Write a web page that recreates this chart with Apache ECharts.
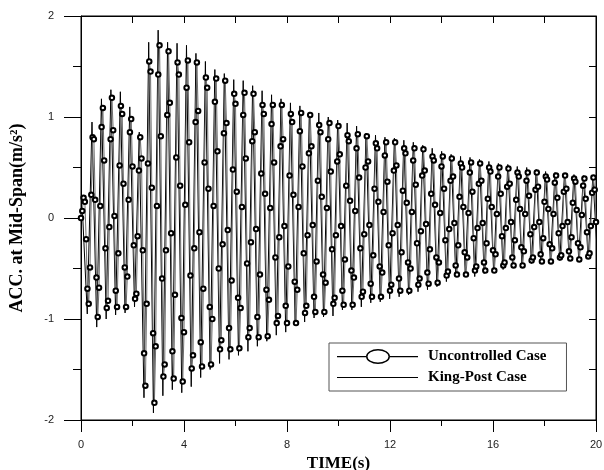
<!DOCTYPE html>
<html>
<head>
<meta charset="utf-8">
<script src="https://cdn.jsdelivr.net/npm/echarts@6/dist/echarts.min.js"></script>
<style>
  html, body { margin: 0; padding: 0; background: #fff; }
  #chart { width: 604px; height: 470px; }
</style>
</head>
<body>
<div id="chart"></div>
<script>
// Mid-span acceleration history (m/s^2) of the bridge deck.

// Uncontrolled case: samples every 0.05 s from t = 0 to 20 s
const UC_DT = 0.05;
const ucAcc = [
  0, 0.07, 0.2, 0.16, -0.21, -0.70, -0.85, -0.49, 0.23, 0.80, 0.78, 0.18, -0.59, -0.98, -0.69, 0.12, 0.90, 1.09, 0.57, -0.30, -0.89, -0.82,
  -0.09, 0.78, 1.19, 0.87, 0.02, -0.72, -0.88, -0.35, 0.52, 1.11, 1.03, 0.34, -0.49, -0.88, -0.58, 0.18, 0.85, 0.98, 0.51, -0.27, -0.80, -0.75,
  -0.18, 0.47, 0.80, 0.59, -0.32, -1.34, -1.66, -0.85, 0.54, 1.55, 1.45, 0.30, -1.14, -1.83, -1.27, 0.12, 1.42, 1.71, 0.81, -0.60, -1.57, -1.45,
  -0.32, 1.02, 1.65, 1.14, -0.15, -1.32, -1.59, -0.76, 0.60, 1.54, 1.42, 0.32, -0.99, -1.62, -1.13, 0.13, 1.29, 1.56, 0.75, -0.57, -1.49, -1.36,
  -0.30, 0.95, 1.54, 1.06, -0.14, -1.23, -1.47, -0.70, 0.55, 1.39, 1.29, 0.29, -0.88, -1.45, -1.00, 0.12, 1.15, 1.38, 0.66, -0.50, -1.30, -1.21,
  -0.26, 0.84, 1.36, 0.94, -0.12, -1.09, -1.30, -0.62, 0.48, 1.23, 1.13, 0.26, -0.79, -1.29, -0.89, 0.11, 1.02, 1.24, 0.59, -0.45, -1.18, -1.09,
  -0.24, 0.76, 1.23, 0.85, -0.11, -0.98, -1.18, -0.56, 0.44, 1.12, 1.03, 0.24, -0.71, -1.17, -0.81, 0.10, 0.93, 1.12, 0.55, -0.39, -1.04, -0.97,
  -0.19, 0.71, 1.12, 0.78, -0.08, -0.87, -1.04, -0.48, 0.42, 1.03, 0.95, 0.23, -0.63, -1.04, -0.71, 0.11, 0.86, 1.04, 0.51, -0.35, -0.94, -0.87,
  -0.17, 0.64, 1.02, 0.71, -0.07, -0.78, -0.93, -0.43, 0.37, 0.92, 0.85, 0.21, -0.56, -0.93, -0.64, 0.10, 0.78, 0.94, 0.46, -0.31, -0.85, -0.79,
  -0.17, 0.56, 0.91, 0.63, -0.08, -0.72, -0.86, -0.41, 0.32, 0.82, 0.76, 0.17, -0.52, -0.86, -0.59, 0.07, 0.69, 0.83, 0.40, -0.30, -0.78, -0.73,
  -0.16, 0.50, 0.81, 0.56, -0.07, -0.65, -0.78, -0.37, 0.29, 0.74, 0.69, 0.16, -0.48, -0.78, -0.54, 0.06, 0.62, 0.75, 0.36, -0.27, -0.72, -0.66,
  -0.15, 0.47, 0.75, 0.52, -0.07, -0.60, -0.72, -0.34, 0.27, 0.69, 0.64, 0.15, -0.44, -0.72, -0.50, 0.06, 0.57, 0.69, 0.33, -0.25, -0.66, -0.60,
  -0.13, 0.42, 0.68, 0.47, -0.06, -0.54, -0.65, -0.31, 0.24, 0.61, 0.57, 0.13, -0.39, -0.64, -0.44, 0.05, 0.51, 0.61, 0.29, -0.22, -0.57, -0.53,
  -0.11, 0.37, 0.59, 0.41, -0.05, -0.47, -0.56, -0.27, 0.21, 0.54, 0.50, 0.11, -0.34, -0.56, -0.39, 0.05, 0.45, 0.55, 0.26, -0.20, -0.52, -0.48,
  -0.10, 0.34, 0.54, 0.37, -0.05, -0.44, -0.52, -0.25, 0.19, 0.50, 0.46, 0.11, -0.32, -0.52, -0.36, 0.04, 0.41, 0.50, 0.24, -0.18, -0.47, -0.44,
  -0.10, 0.31, 0.49, 0.34, -0.04, -0.39, -0.47, -0.22, 0.18, 0.45, 0.41, 0.09, -0.29, -0.47, -0.33, 0.04, 0.37, 0.45, 0.22, -0.16, -0.42, -0.39,
  -0.09, 0.28, 0.45, 0.31, -0.04, -0.36, -0.43, -0.20, 0.16, 0.41, 0.38, 0.09, -0.26, -0.43, -0.30, 0.04, 0.35, 0.42, 0.20, -0.15, -0.39, -0.37,
  -0.08, 0.26, 0.42, 0.29, -0.04, -0.33, -0.40, -0.19, 0.15, 0.39, 0.36, 0.08, -0.25, -0.41, -0.29, 0.03, 0.32, 0.39, 0.19, -0.14, -0.38, -0.35,
  -0.08, 0.25, 0.40, 0.28, -0.04
];

// King-post case: successive response peaks and troughs, one every half cycle
const KP_T0 = 0.06;
const KP_HALF = 0.1835;
const kpPeaks = [
  0.05, 0.95, 1.18, 1.27, 1.25, 1.10, 0.85, 1.74, 1.86, 1.74, 1.73, 1.71, 1.63, 1.55, 1.47,
  1.43, 1.37, 1.36, 1.31, 1.26, 1.22, 1.18, 1.14, 1.11, 1.05, 1.04, 1.00, 0.97, 0.94, 0.91,
  0.84, 0.82, 0.80, 0.79, 0.77, 0.75, 0.72, 0.69, 0.66, 0.63, 0.61, 0.60, 0.58, 0.56, 0.54,
  0.53, 0.51, 0.50, 0.48, 0.46, 0.45, 0.44, 0.43, 0.42, 0.41
];
const kpTroughs = [
  -0.95, -1.08, -1.00, -0.96, -0.94, -0.88, -1.78, -1.93, -1.76, -1.70, -1.73, -1.67, -1.58, -1.50, -1.44,
  -1.40, -1.36, -1.32, -1.27, -1.22, -1.16, -1.13, -1.06, -1.03, -0.99, -0.98, -0.97, -0.91, -0.91, -0.88,
  -0.84, -0.83, -0.80, -0.78, -0.76, -0.73, -0.71, -0.68, -0.63, -0.58, -0.56, -0.58, -0.55, -0.53, -0.51,
  -0.47, -0.48, -0.45, -0.43, -0.43, -0.42, -0.41, -0.40, -0.40, -0.40
];

const xTicks = [0, 4, 8, 12, 16, 20];
const yTicks = [-2, -1, 0, 1, 2];
const seriesNames = ['Uncontrolled Case', 'King-Post Case'];

const ucData = ucAcc.map((v, i) => [+(i * UC_DT).toFixed(3), v]);
const kpData = [];
kpPeaks.forEach((p, k) => {
  kpData.push([KP_T0 + (2 * k) * KP_HALF, p]);
  kpData.push([KP_T0 + (2 * k + 1) * KP_HALF, kpTroughs[k]]);
});

const tickFont = { fontFamily: 'Liberation Sans', fontSize: 11, color: '#222' };
const nameFont = { fontFamily: 'Liberation Serif', fontWeight: 'bold', color: '#000' };
const black = { color: '#000', width: 1 };

// legend glyphs: plain line, and line broken by an open ellipse
const ICON_RING = 'path://M0,7 L29,7 L29,8.2 L0,8.2 Z M53,7 L81,7 L81,8.2 L53,8.2 Z ' +
  'M29,7.5 A12,7.5 0 1 1 53,7.5 A12,7.5 0 1 1 29,7.5 Z ' +
  'M30.5,7.5 A10.5,6.1 0 1 0 51.5,7.5 A10.5,6.1 0 1 0 30.5,7.5 Z';
const ICON_LINE = 'path://M0,7 L81,7 L81,8.2 L0,8.2 Z';

const chart = echarts.init(document.getElementById('chart'), null, { renderer: 'canvas' });
chart.setOption({
  animation: false,
  backgroundColor: '#fff',
  grid: {
    left: 81, right: 8, top: 16, bottom: 50, containLabel: false, outerBoundsMode: 'none',
    show: true, borderColor: '#000', borderWidth: 1, backgroundColor: 'transparent'
  },
  legend: {
    orient: 'vertical',
    left: 329,
    top: 343,
    padding: [6, 20, 6, 8],
    itemGap: 6,
    itemWidth: 81,
    itemHeight: 15,
    symbolKeepAspect: true,
    selectedMode: false,
    backgroundColor: '#fff',
    borderColor: '#555',
    borderWidth: 1,
    borderRadius: 0,
    itemStyle: { color: '#000', borderWidth: 0 },
    textStyle: { fontFamily: 'Liberation Serif', fontWeight: 'bold', fontSize: 15, color: '#000', lineHeight: 15, padding: [0, 0, 0, 5] },
    data: [
      { name: seriesNames[0], icon: ICON_RING },
      { name: seriesNames[1], icon: ICON_LINE }
    ],
    z: 10
  },
  xAxis: [
    {
      type: 'value', position: 'bottom', min: xTicks[0], max: xTicks[xTicks.length - 1],
      interval: xTicks[1] - xTicks[0],
      name: 'TIME(s)', nameLocation: 'middle', nameGap: 31,
      nameTextStyle: Object.assign({ fontSize: 17 }, nameFont),
      axisLine: { show: true, onZero: false, lineStyle: black },
      axisTick: { show: true, inside: false, length: 12, lineStyle: black },
      minorTick: { show: true, splitNumber: 2, length: 6, lineStyle: black },
      axisLabel: Object.assign({ margin: 19 }, tickFont),
      splitLine: { show: false }
    },
    {
      type: 'value', position: 'top', min: 0, max: 20, interval: 2, show: true,
      axisLine: { show: true, onZero: false, lineStyle: black },
      axisTick: { show: true, inside: true, length: 7, lineStyle: black },
      axisLabel: { show: false },
      splitLine: { show: false }
    }
  ],
  yAxis: [
    {
      type: 'value', position: 'left', min: yTicks[0], max: yTicks[yTicks.length - 1],
      interval: yTicks[1] - yTicks[0],
      name: 'ACC. at Mid-Span(m/s²)', nameLocation: 'middle', nameGap: 55,
      nameTextStyle: Object.assign({ fontSize: 18 }, nameFont),
      axisLine: { show: true, onZero: false, lineStyle: black },
      axisTick: { show: true, inside: false, length: 17, lineStyle: black },
      minorTick: { show: true, splitNumber: 2, length: 8, lineStyle: black },
      axisLabel: Object.assign({ margin: 27 }, tickFont),
      splitLine: { show: false }
    },
    {
      type: 'value', position: 'right', min: -2, max: 2, interval: 0.5, show: true,
      axisLine: { show: true, onZero: false, lineStyle: black },
      axisTick: { show: true, inside: true, length: 7, lineStyle: black },
      axisLabel: { show: false },
      splitLine: { show: false }
    }
  ],
  series: [
    {
      name: seriesNames[1], type: 'line', xAxisIndex: 0, yAxisIndex: 0,
      data: kpData, symbol: 'none', z: 2,
      lineStyle: { color: '#000', width: 1 },
      itemStyle: { color: '#000' }
    },
    {
      name: seriesNames[0], type: 'line', xAxisIndex: 0, yAxisIndex: 0,
      data: ucData, symbol: 'emptyCircle', symbolSize: 4.5, showSymbol: true, showAllSymbol: true, z: 3,
      lineStyle: { color: '#6f6f6f', width: 1 },
      itemStyle: { color: '#000', borderColor: '#000', borderWidth: 1.2 }
    }
  ]
});
</script>
</body>
</html>
